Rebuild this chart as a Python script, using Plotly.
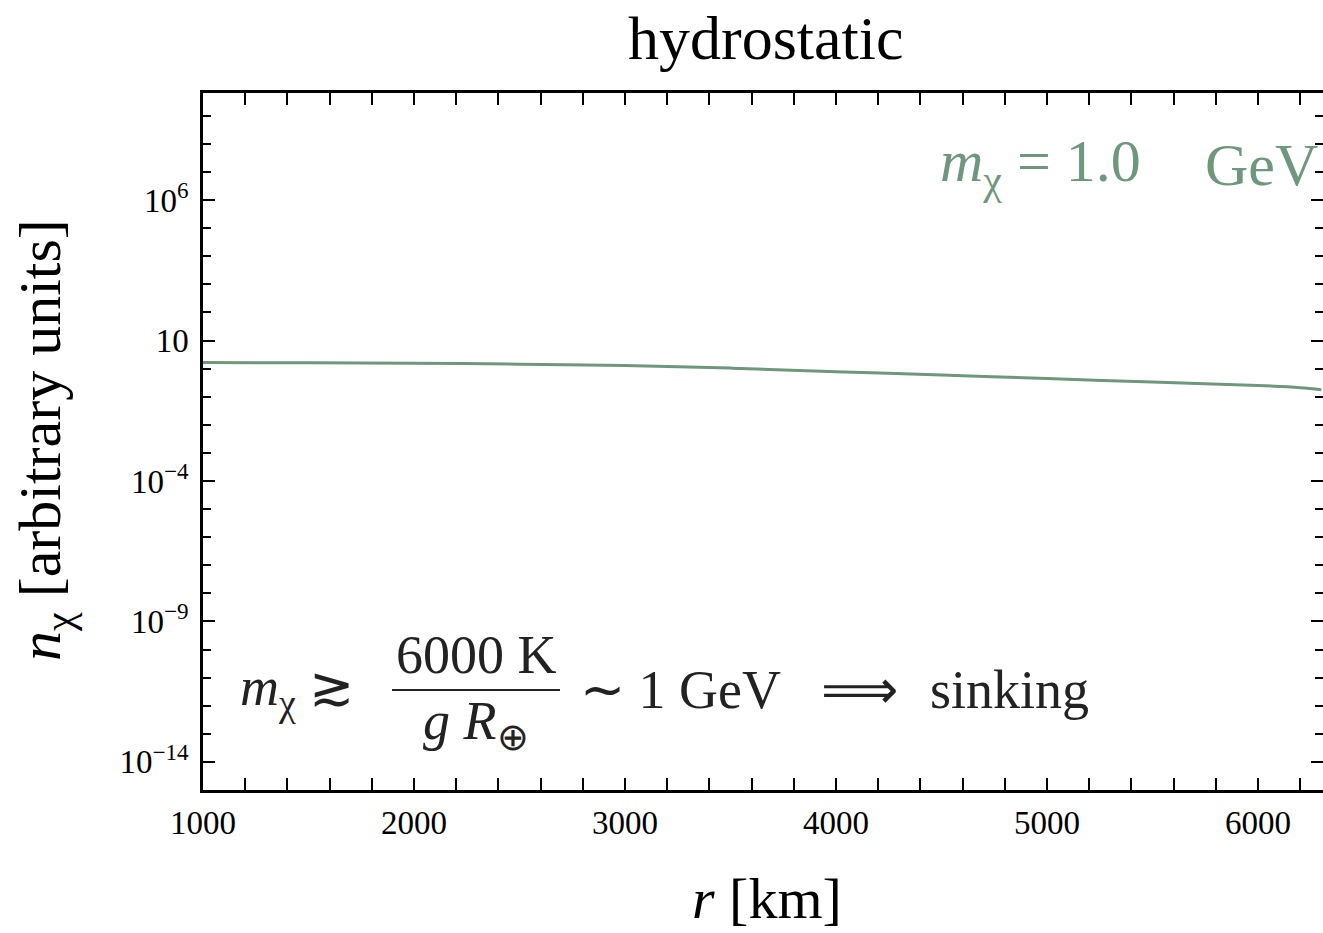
import plotly.graph_objects as go

# ---- data ----
r_km = [1000, 1500, 2000, 2500, 3000, 3500, 4000, 4500, 5000, 5500, 6000, 6200, 6300]
n_chi = [1.64, 1.61, 1.56, 1.44, 1.28, 1.04, 0.78, 0.59, 0.44, 0.33, 0.25, 0.21, 0.178]

x_ticks = [1000, 2000, 3000, 4000, 5000, 6000]
x_ticklabels = ["1000", "2000", "3000", "4000", "5000", "6000"]
y_ticks = [1e6, 1e1, 1e-4, 1e-9, 1e-14]
y_ticklabels = ["10<sup>6</sup>", "10", "10<sup>−4</sup>", "10<sup>−9</sup>", "10<sup>−14</sup>"]
x_minor = [v for v in range(1000, 6400, 200) if v % 1000 != 0]
y_minor = [10.0 ** k for k in range(-15, 10) if k not in (6, 1, -4, -9, -14)]

title_text = "hydrostatic"
label_text = "<i>m</i><sub>χ</sub> = 1.0"
label_unit = "GeV"

GREEN = "#6f977d"
FONT = "Liberation Serif"

W, H = 1323, 933
L, T, B = 203, 93, 143
PW, PH = W - L, H - T - B
Y_RANGE = [-15.0, 9.81]


def px(x):
    return (x - L) / PW


def py(y):
    return (H - B - y) / PH


fig = go.Figure()
fig.add_trace(go.Scatter(x=r_km, y=n_chi, mode="lines",
                         line=dict(color=GREEN, width=3), line_shape="spline",
                         showlegend=False, hoverinfo="skip"))
# invisible helper trace so the right-hand tick axis is drawn
fig.add_trace(go.Scatter(x=[r_km[0]], y=[n_chi[0]], yaxis="y2", mode="markers",
                         marker=dict(opacity=0), showlegend=False, hoverinfo="skip"))

tickfont = dict(family=FONT, size=33, color="black")
minor_y = dict(tickvals=y_minor, ticks="inside", ticklen=8, tickwidth=2,
               tickcolor="black", showgrid=False)

fig.update_layout(
    xaxis=dict(range=[1000, 6308], tickvals=x_ticks, ticktext=x_ticklabels,
               showline=True, linecolor="black", linewidth=2.5, mirror="allticks",
               ticks="inside", ticklen=12, tickwidth=2, tickcolor="black",
               showgrid=False, zeroline=False, tickfont=tickfont, ticklabelstandoff=2,
               minor=dict(tickvals=x_minor, ticks="inside", ticklen=8, tickwidth=2,
                          tickcolor="black", showgrid=False)),
    yaxis=dict(type="log", range=Y_RANGE, tickvals=y_ticks, ticktext=y_ticklabels,
               showline=True, linecolor="black", linewidth=2.5, mirror=False,
               ticks="inside", ticklen=12, tickwidth=2, tickcolor="black",
               showgrid=False, zeroline=False, tickfont=tickfont, ticklabelstandoff=5,
               minor=minor_y),
    yaxis2=dict(type="log", range=Y_RANGE, overlaying="y", side="right",
                tickvals=y_ticks, showticklabels=False, showline=False,
                ticks="inside", ticklen=12, tickwidth=2, tickcolor="black",
                showgrid=False, zeroline=False, minor=minor_y),
)

ann = []
ann.append(dict(text=title_text, x=px(766), y=py(38), xref="paper", yref="paper",
                showarrow=False, xanchor="center", yanchor="middle",
                font=dict(family=FONT, size=62, color="black")))
ann.append(dict(text="<i>r</i> [km]", x=px(767), y=py(898), xref="paper", yref="paper",
                showarrow=False, xanchor="center", yanchor="middle",
                font=dict(family=FONT, size=58, color="black")))
ann.append(dict(text="<i>n</i><sub>χ</sub> [arbitrary units]", x=px(45), y=py(440),
                xref="paper", yref="paper", showarrow=False, textangle=-90,
                xanchor="center", yanchor="middle",
                font=dict(family=FONT, size=60, color="black")))
ann.append(dict(text=label_text, x=px(938), y=py(165), xref="paper", yref="paper",
                showarrow=False, xanchor="left", yanchor="middle",
                font=dict(family=FONT, size=60, color=GREEN)))
ann.append(dict(text=label_unit, x=px(1203), y=py(165), xref="paper", yref="paper",
                showarrow=False, xanchor="left", yanchor="middle",
                font=dict(family=FONT, size=60, color=GREEN)))
big = dict(family=FONT, size=54, color="#222222")
ann.append(dict(text="<i>m</i><sub>χ</sub> ≳", x=px(238), y=py(690), xref="paper", yref="paper",
                showarrow=False, xanchor="left", yanchor="middle", font=big))
ann.append(dict(text="6000 K", x=px(476), y=py(655), xref="paper", yref="paper",
                showarrow=False, xanchor="center", yanchor="middle", font=big))
ann.append(dict(text="<i>g</i> <i>R</i><sub>⊕</sub>", x=px(476), y=py(724), xref="paper", yref="paper",
                showarrow=False, xanchor="center", yanchor="middle", font=big))
ann.append(dict(text="∼ 1 GeV", x=px(578), y=py(690), xref="paper", yref="paper",
                showarrow=False, xanchor="left", yanchor="middle", font=big))
ann.append(dict(text="⟹", x=px(859), y=py(690), xref="paper", yref="paper",
                showarrow=False, xanchor="center", yanchor="middle", font=big))
ann.append(dict(text="sinking", x=px(928), y=py(690), xref="paper", yref="paper",
                showarrow=False, xanchor="left", yanchor="middle", font=big))

fig.update_layout(
    width=W, height=H, margin=dict(l=L, r=0, t=T, b=B),
    paper_bgcolor="white", plot_bgcolor="white",
    annotations=ann,
    shapes=[dict(type="line", xref="paper", yref="paper", x0=px(392), x1=px(560),
                 y0=py(690), y1=py(690), line=dict(color="#222222", width=2))],
)

fig.write_html("out.html")
